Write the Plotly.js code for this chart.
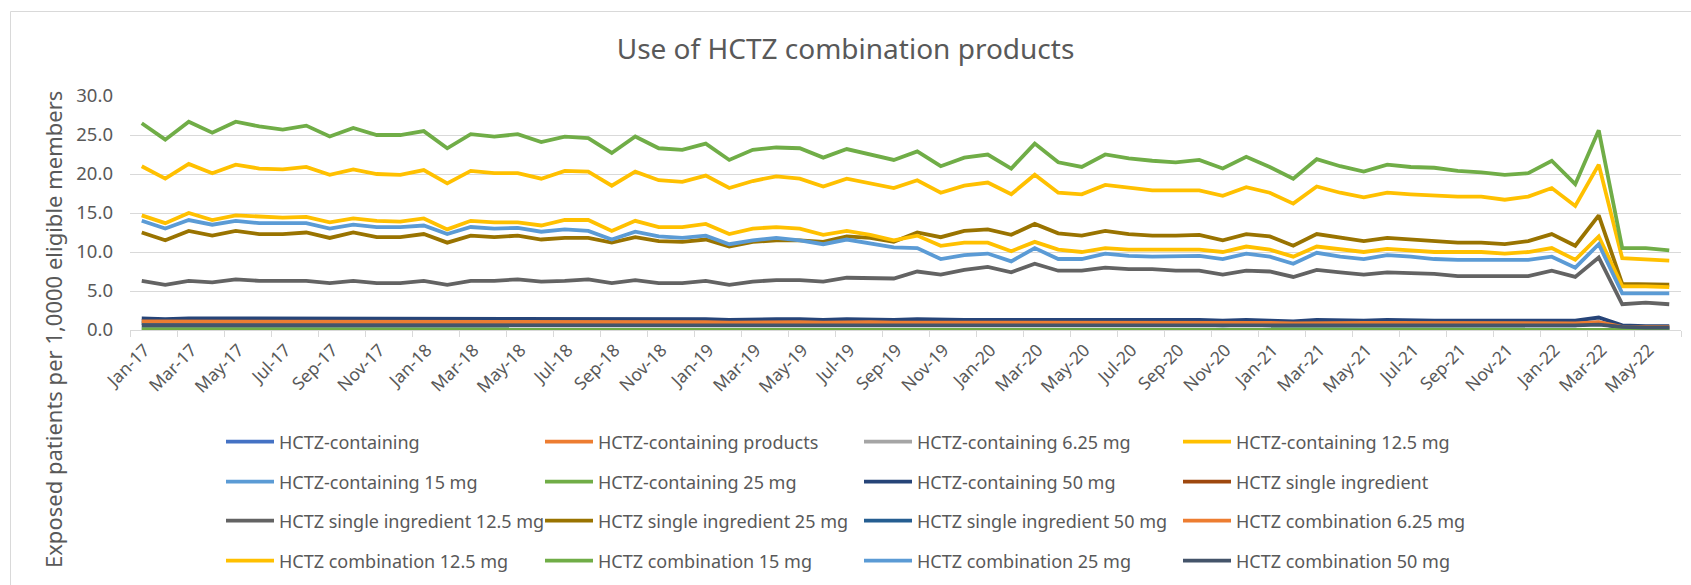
<!DOCTYPE html>
<html>
<head>
<meta charset="utf-8">
<script src="https://cdn.plot.ly/plotly-3.0.1.min.js"></script>
<style>
  html, body { margin: 0; padding: 0; background: #ffffff; }
  #chart { width: 1691px; height: 585px; }
</style>
</head>
<body>
<div id="chart"></div>
<script>
// ---------- DATA ----------
const months = [
  "Jan-17","Feb-17","Mar-17","Apr-17","May-17","Jun-17","Jul-17","Aug-17","Sep-17","Oct-17","Nov-17","Dec-17",
  "Jan-18","Feb-18","Mar-18","Apr-18","May-18","Jun-18","Jul-18","Aug-18","Sep-18","Oct-18","Nov-18","Dec-18",
  "Jan-19","Feb-19","Mar-19","Apr-19","May-19","Jun-19","Jul-19","Aug-19","Sep-19","Oct-19","Nov-19","Dec-19",
  "Jan-20","Feb-20","Mar-20","Apr-20","May-20","Jun-20","Jul-20","Aug-20","Sep-20","Oct-20","Nov-20","Dec-20",
  "Jan-21","Feb-21","Mar-21","Apr-21","May-21","Jun-21","Jul-21","Aug-21","Sep-21","Oct-21","Nov-21","Dec-21",
  "Jan-22","Feb-22","Mar-22","Apr-22","May-22","Jun-22"
];
const tickLabels = [
  "Jan-17","Mar-17","May-17","Jul-17","Sep-17","Nov-17",
  "Jan-18","Mar-18","May-18","Jul-18","Sep-18","Nov-18",
  "Jan-19","Mar-19","May-19","Jul-19","Sep-19","Nov-19",
  "Jan-20","Mar-20","May-20","Jul-20","Sep-20","Nov-20",
  "Jan-21","Mar-21","May-21","Jul-21","Sep-21","Nov-21",
  "Jan-22","Mar-22","May-22"
];
const yTicks = [0, 5, 10, 15, 20, 25, 30];

const seriesNames = [
  "HCTZ-containing", "HCTZ-containing products", "HCTZ-containing 6.25 mg", "HCTZ-containing 12.5 mg",
  "HCTZ-containing 15 mg", "HCTZ-containing 25 mg", "HCTZ-containing 50 mg", "HCTZ single ingredient",
  "HCTZ single ingredient 12.5 mg", "HCTZ single ingredient 25 mg", "HCTZ single ingredient 50 mg", "HCTZ combination 6.25 mg",
  "HCTZ combination 12.5 mg", "HCTZ combination 15 mg", "HCTZ combination 25 mg", "HCTZ combination 50 mg"
];

// series without visible data in the chart
const hctzContaining = months.map(() => null);
const hctzContainingProducts = months.map(() => null);
const hctzSingle = months.map(() => null);

const comb625 = [
  1.1,1.1,1.1,1.1,1.1,1.1,1.1,1.1,1.1,1.1,1.1,1.1,
  1.05,1.05,1.05,1.05,1.05,1.05,1.05,1.05,1.0,1.05,1.0,1.0,
  1.0,0.95,1.0,1.0,1.0,0.95,1.0,1.0,0.95,1.0,0.95,0.95,
  0.95,0.95,1.0,0.95,0.95,0.95,0.95,0.95,0.95,0.95,0.9,0.95,
  0.9,0.85,0.9,0.9,0.9,0.9,0.9,0.9,0.9,0.9,0.85,0.9,
  0.9,0.85,1.0,0.4,0.35,0.35
];
const containing625 = [
  1.1,1.1,1.1,1.1,1.1,1.1,1.1,1.1,1.1,1.1,1.1,1.1,
  1.05,1.05,1.05,1.05,1.05,1.05,1.05,1.05,1.0,1.05,1.0,1.0,
  1.0,0.95,1.0,1.0,1.0,0.95,1.0,1.0,0.95,1.0,0.95,0.95,
  0.95,0.95,1.0,0.95,0.95,0.95,0.95,0.95,0.95,0.95,0.9,0.95,
  0.9,0.85,0.9,0.9,0.9,0.9,0.9,0.9,0.9,0.9,0.85,0.9,
  0.9,0.85,1.0,0.4,0.35,0.35
];
const containing125 = [
  21.0,19.4,21.3,20.1,21.2,20.7,20.6,20.9,19.9,20.6,20.0,19.9,
  20.5,18.8,20.4,20.1,20.1,19.4,20.4,20.3,18.5,20.3,19.2,19.0,
  19.8,18.2,19.1,19.7,19.4,18.4,19.4,18.8,18.2,19.2,17.6,18.5,
  18.9,17.4,19.9,17.6,17.4,18.6,18.2,17.9,17.9,17.9,17.2,18.3,
  17.6,16.2,18.4,17.6,17.0,17.6,17.4,17.2,17.1,17.1,16.7,17.1,
  18.2,15.9,21.2,9.2,9.1,8.9
];
const comb15 = [
  0.1,0.1,0.1,0.1,0.1,0.1,0.1,0.1,0.1,0.1,0.1,0.1,
  0.1,0.1,0.1,0.1,0.1,0.1,0.1,0.1,0.1,0.1,0.1,0.1,
  0.1,0.1,0.1,0.1,0.1,0.1,0.1,0.1,0.1,0.1,0.1,0.1,
  0.1,0.1,0.1,0.1,0.1,0.1,0.1,0.1,0.1,0.1,0.1,0.1,
  0.1,0.1,0.1,0.1,0.1,0.1,0.1,0.1,0.1,0.1,0.1,0.1,
  0.1,0.1,0.1,0.05,0.05,0.05
];
const containing15 = [
  0.1,0.1,0.1,0.1,0.1,0.1,0.1,0.1,0.1,0.1,0.1,0.1,
  0.1,0.1,0.1,0.1,0.1,0.1,0.1,0.1,0.1,0.1,0.1,0.1,
  0.1,0.1,0.1,0.1,0.1,0.1,0.1,0.1,0.1,0.1,0.1,0.1,
  0.1,0.1,0.1,0.1,0.1,0.1,0.1,0.1,0.1,0.1,0.1,0.1,
  0.1,0.1,0.1,0.1,0.1,0.1,0.1,0.1,0.1,0.1,0.1,0.1,
  0.1,0.1,0.1,0.05,0.05,0.05
];
const containing25 = [
  26.5,24.4,26.7,25.3,26.7,26.1,25.7,26.2,24.8,25.9,25.0,25.0,
  25.5,23.3,25.1,24.8,25.1,24.1,24.8,24.6,22.7,24.8,23.3,23.1,
  23.9,21.8,23.1,23.4,23.3,22.1,23.2,22.5,21.8,22.9,21.0,22.1,
  22.5,20.7,23.9,21.5,20.9,22.5,22.0,21.7,21.5,21.8,20.7,22.2,
  20.9,19.4,21.9,21.0,20.3,21.2,20.9,20.8,20.4,20.2,19.9,20.1,
  21.7,18.7,25.6,10.5,10.5,10.2
];
const containing50 = [
  1.5,1.4,1.5,1.5,1.5,1.5,1.5,1.5,1.4,1.5,1.5,1.5,
  1.5,1.4,1.5,1.5,1.5,1.5,1.5,1.5,1.4,1.5,1.4,1.4,
  1.4,1.3,1.4,1.4,1.4,1.3,1.4,1.3,1.3,1.4,1.3,1.3,
  1.3,1.3,1.4,1.3,1.3,1.3,1.3,1.3,1.3,1.3,1.2,1.3,
  1.2,1.1,1.3,1.2,1.2,1.3,1.2,1.2,1.2,1.2,1.2,1.2,
  1.3,1.2,1.6,0.6,0.5,0.5
];
const single125 = [
  6.3,5.8,6.3,6.1,6.5,6.3,6.3,6.3,6.0,6.3,6.0,6.0,
  6.3,5.8,6.3,6.3,6.5,6.2,6.3,6.5,6.0,6.4,6.0,6.0,
  6.3,5.8,6.2,6.4,6.4,6.2,6.7,6.6,6.6,7.5,7.1,7.7,
  8.1,7.4,8.5,7.6,7.6,8.0,7.8,7.8,7.6,7.6,7.1,7.6,
  7.5,6.8,7.7,7.4,7.1,7.4,7.3,7.2,6.9,6.9,6.9,6.9,
  7.6,6.8,9.3,3.3,3.5,3.3
];
const single25 = [
  12.5,11.5,12.7,12.1,12.7,12.3,12.3,12.5,11.8,12.5,11.9,11.9,
  12.3,11.2,12.1,11.9,12.1,11.6,11.8,11.8,11.2,11.9,11.4,11.3,
  11.6,10.7,11.3,11.5,11.5,11.3,12.0,11.8,11.3,12.5,11.9,12.7,
  12.9,12.2,13.6,12.4,12.1,12.7,12.3,12.1,12.1,12.2,11.5,12.3,
  12.0,10.8,12.3,11.8,11.4,11.8,11.6,11.5,11.2,11.2,11.0,11.4,
  12.3,10.8,14.7,5.9,5.9,5.8
];
const single50 = [
  0.9,0.8,0.9,0.9,0.9,0.9,0.9,0.9,0.8,0.9,0.9,0.9,
  0.9,0.8,0.9,0.9,0.9,0.9,0.9,0.9,0.8,0.9,0.8,0.8,
  0.8,0.7,0.8,0.8,0.8,0.7,0.8,0.7,0.7,0.8,0.7,0.7,
  0.7,0.7,0.8,0.7,0.7,0.7,0.7,0.7,0.7,0.7,0.6,0.7,
  0.6,0.6,0.7,0.6,0.6,0.7,0.6,0.6,0.6,0.6,0.6,0.6,
  0.7,0.6,0.9,0.2,0.2,0.2
];
const comb125 = [
  14.7,13.7,15.0,14.1,14.7,14.5,14.4,14.5,13.8,14.3,14.0,13.9,
  14.3,12.9,14.0,13.8,13.8,13.4,14.1,14.1,12.7,14.0,13.2,13.2,
  13.6,12.3,13.0,13.2,13.0,12.2,12.7,12.2,11.5,12.1,10.8,11.2,
  11.2,10.1,11.3,10.3,10.0,10.5,10.3,10.3,10.3,10.3,10.0,10.7,
  10.3,9.4,10.7,10.3,10.0,10.4,10.2,10.0,10.0,10.0,9.8,10.0,
  10.5,9.0,12.0,5.6,5.6,5.5
];
const comb25 = [
  14.0,13.0,14.1,13.5,14.0,13.7,13.7,13.7,13.0,13.5,13.2,13.2,
  13.4,12.3,13.2,13.0,13.1,12.6,12.9,12.7,11.6,12.6,12.0,11.8,
  12.1,11.0,11.5,11.8,11.5,11.0,11.6,11.1,10.6,10.5,9.1,9.6,
  9.8,8.8,10.5,9.1,9.1,9.8,9.5,9.4,9.5,9.5,9.1,9.8,
  9.4,8.5,9.9,9.4,9.1,9.6,9.4,9.1,9.0,9.0,9.0,9.0,
  9.4,8.0,11.0,4.7,4.7,4.7
];
const comb50 = [
  0.6,0.6,0.6,0.6,0.6,0.6,0.6,0.6,0.6,0.6,0.6,0.6,
  0.6,0.6,0.6,0.6,0.6,0.6,0.6,0.6,0.6,0.6,0.6,0.6,
  0.6,0.6,0.6,0.6,0.6,0.6,0.6,0.6,0.6,0.6,0.6,0.6,
  0.6,0.6,0.6,0.6,0.6,0.6,0.6,0.6,0.6,0.6,0.6,0.6,
  0.6,0.5,0.6,0.6,0.6,0.6,0.6,0.6,0.6,0.6,0.6,0.6,
  0.6,0.6,0.7,0.4,0.3,0.3
];

const seriesValues = [
  hctzContaining, hctzContainingProducts, containing625, containing125,
  containing15, containing25, containing50, hctzSingle,
  single125, single25, single50, comb625,
  comb125, comb15, comb25, comb50
];
const seriesColors = [
  "#4472C4", "#ED7D31", "#A5A5A5", "#FFC000",
  "#5B9BD5", "#70AD47", "#264478", "#9E480E",
  "#636363", "#997300", "#255E91", "#ED7D31",
  "#FFC000", "#70AD47", "#5B9BD5", "#44546A"
];

// ---------- CHART ----------
const FONT = "Noto Sans, Open Sans, DejaVu Sans, sans-serif";
const TXT = "#595959";
const legendIds = ["legend", "legend2", "legend3", "legend4"];

const traces = seriesNames.map((name, i) => ({
  type: "scatter",
  mode: "lines",
  name: name,
  x: months,
  y: seriesValues[i],
  line: { color: seriesColors[i], width: 3.8 },
  legend: legendIds[Math.floor(i / 4)],
  hoverinfo: "x+y+name"
}));
// helper (draws nothing) so the boundary-tick axis is created
traces.push({ type: "scatter", mode: "lines", x: [null], y: [null], xaxis: "x2", yaxis: "y", showlegend: false, hoverinfo: "skip" });

const plotTop = 96, plotBottom = 330, plotLeft = 130, plotRight = 1681;
const W = 1691, H = 585;
const pyPaper = p => (plotBottom - p) / (plotBottom - plotTop);
const pxPaper = p => (p - plotLeft) / (plotRight - plotLeft);

const rowCenters = [442, 482, 521, 561];
function legendCfg(k) {
  return {
    orientation: "h",
    x: pxPaper(221), xanchor: "left",
    y: pyPaper(rowCenters[k]), yanchor: "middle",
    entrywidth: 256, entrywidthmode: "pixels",
    itemwidth: 48,
    font: { family: FONT, size: 18, color: TXT },
    bgcolor: "rgba(0,0,0,0)",
    traceorder: "normal",
    itemclick: false, itemdoubleclick: false
  };
}

const layout = {
  width: W, height: H,
  paper_bgcolor: "#ffffff", plot_bgcolor: "#ffffff",
  margin: { l: plotLeft, r: W - plotRight, t: plotTop, b: H - plotBottom, autoexpand: false },
  font: { family: FONT, color: TXT },
  title: {
    text: "Use of HCTZ combination products",
    font: { family: FONT, size: 28, color: TXT },
    x: 0.5, xref: "container", xanchor: "center",
    y: 1 - 49 / H, yref: "container", yanchor: "middle"
  },
  xaxis: {
    type: "category",
    categoryorder: "array", categoryarray: months,
    range: [-0.5, months.length - 0.5],
    tickmode: "array", tickvals: tickLabels, ticktext: tickLabels,
    tickangle: -45,
    ticks: "",
    ticklabelshift: 3, ticklabelstandoff: 2,
    tickfont: { family: FONT, size: 17.5, color: TXT },
    showgrid: false, zeroline: false,
    showline: true, linecolor: "#D9D9D9", linewidth: 1
  },
  xaxis2: {
    overlaying: "x", anchor: "y", side: "bottom",
    type: "linear",
    range: [-0.5, months.length - 0.5],
    tickmode: "linear", tick0: -0.5, dtick: 2,
    ticks: "outside", ticklen: 6, tickcolor: "#D9D9D9", tickwidth: 1,
    showticklabels: false, showgrid: false, zeroline: false, showline: false
  },
  yaxis: {
    range: [0, 30],
    tickmode: "array", tickvals: yTicks,
    tickformat: ".1f",
    ticks: "", ticklabelstandoff: 16,
    tickfont: { family: FONT, size: 18.5, color: TXT },
    showgrid: true, gridcolor: "#D9D9D9", gridwidth: 1,
    zeroline: false, showline: false
  },
  legend: legendCfg(0),
  legend2: legendCfg(1),
  legend3: legendCfg(2),
  legend4: legendCfg(3),
  annotations: [{
    text: "Exposed patients per 1,0000 eligible members",
    xref: "paper", yref: "paper",
    x: pxPaper(53), y: pyPaper(330),
    xanchor: "center", yanchor: "middle",
    textangle: -90, showarrow: false,
    font: { family: FONT, size: 22, color: TXT }
  }],
  shapes: [{
    type: "rect", xref: "paper", yref: "paper", layer: "below",
    x0: pxPaper(10.5), x1: pxPaper(1700),
    y0: pyPaper(600), y1: pyPaper(11.5),
    line: { color: "#D9D9D9", width: 1 }, fillcolor: "rgba(0,0,0,0)"
  }],
  showlegend: true
};

Plotly.newPlot("chart", traces, layout, { displayModeBar: false, staticPlot: true });
</script>
</body>
</html>
